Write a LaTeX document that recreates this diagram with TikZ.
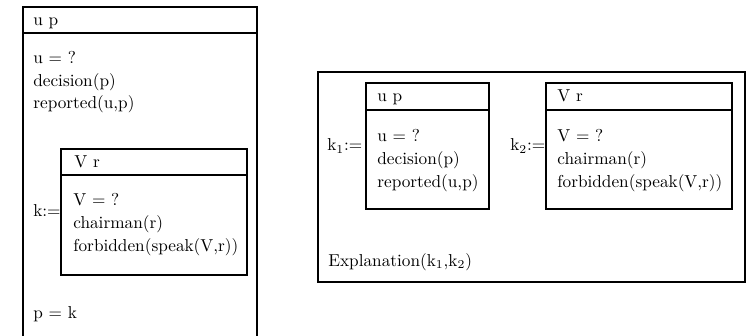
\documentclass[tikz,border=0pt]{standalone}
\usetikzlibrary{positioning}
\begin{document}
\begin{tikzpicture}[
        x=0.58pt, y=-0.58pt,
        drsbox/.style={draw, line width=0.8pt},
        cond/.style={anchor=base west, inner sep=0pt},
    ]
    \useasboundingbox (0,0) rectangle (746,336);

    % --- DRS links: k := ... ; p = k ---
    \draw[drsbox] (23,7) rectangle (257,360);
    \draw[drsbox] (23,33) -- (257,33);
    \node[cond] (lref)  at (33,26)  {u p};
    \node[cond] (lu)    at (33,64)  {u = ?};
    \node[cond] (ldec)  at (33,87)  {decision(p)};
    \node[cond] (lrep)  at (33,109) {reported(u,p)};
    \node[cond] (lk)    at (33,216) {k:=};
    \node[cond] (lpk)   at (33,318) {p = k};

    \draw[drsbox] (61,149) rectangle (247,275);
    \draw[drsbox] (61,175) -- (247,175);
    \node[cond] (iref)  at (74,168) {V r};
    \node[cond] (iv)    at (73,205) {V = ?};
    \node[cond] (ich)   at (73,228) {chairman(r)};
    \node[cond] (ifb)   at (73,251) {forbidden(speak(V,r))};

    % --- DRS rechts: k1, k2, Explanation ---
    \draw[drsbox] (318,72) rectangle (745,282);

    \draw[drsbox] (366,83) rectangle (489,209);
    \draw[drsbox] (366,110) -- (489,110);
    \node[cond] (aref)  at (377,102) {u p};
    \node[cond] (au)    at (377,142) {u = ?};
    \node[cond] (adec)  at (377,165) {decision(p)};
    \node[cond] (arep)  at (377,187) {reported(u,p)};
    \node[cond] (ak)    at (327,151) {k$_1$:=};

    \draw[drsbox] (546,83) rectangle (732,209);
    \draw[drsbox] (546,110) -- (732,110);
    \node[cond] (bref)  at (557,102) {V r};
    \node[cond] (bv)    at (557,142) {V = ?};
    \node[cond] (bch)   at (557,165) {chairman(r)};
    \node[cond] (bfb)   at (557,187) {forbidden(speak(V,r))};
    \node[cond] (bk)    at (510,151) {k$_2$:=};

    \node[cond] (expl)  at (328,266) {Explanation(k$_1$,k$_2$)};
\end{tikzpicture}
\end{document}
